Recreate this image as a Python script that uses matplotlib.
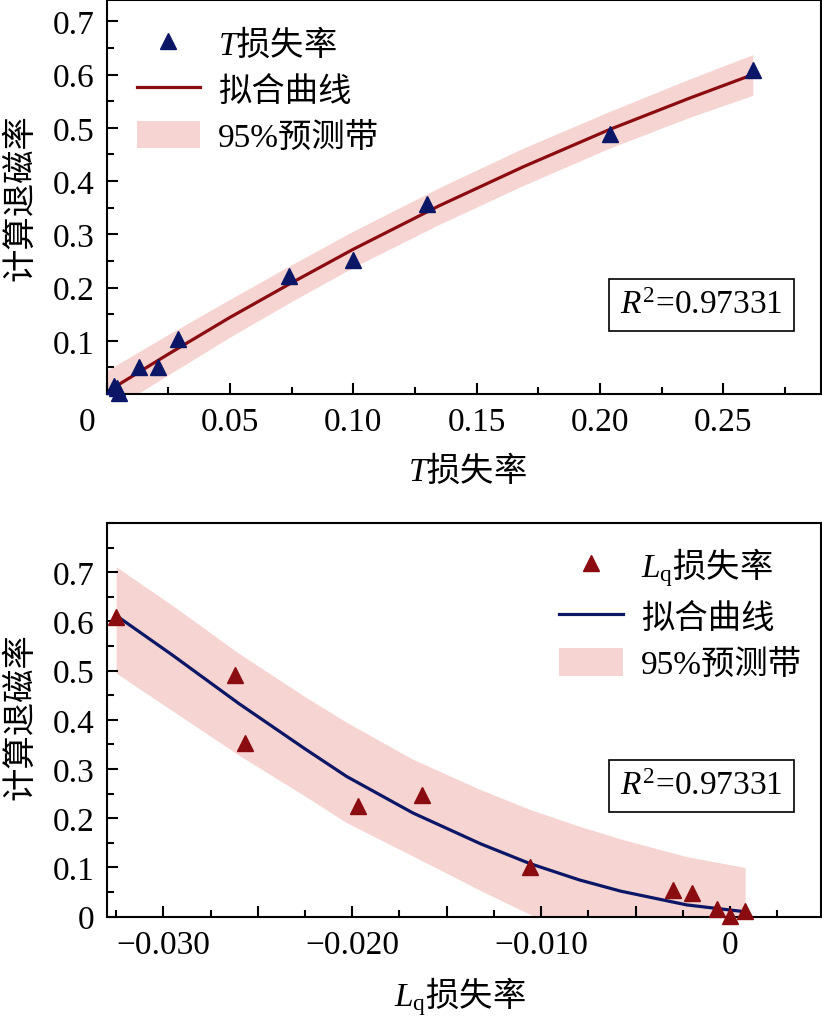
import matplotlib
matplotlib.use('Agg')
import matplotlib.pyplot as plt
from matplotlib.ticker import MultipleLocator

plt.rcParams['font.family'] = ['Liberation Serif', 'Noto Sans CJK SC']
plt.rcParams['mathtext.fontset'] = 'custom'
plt.rcParams['mathtext.rm'] = 'Liberation Serif'
plt.rcParams['mathtext.it'] = 'Liberation Serif:italic'
plt.rcParams['mathtext.sf'] = 'Noto Sans CJK SC'   # used for the CJK part of mixed labels
plt.rcParams['font.size'] = 24

# top panel: T loss rate vs computed demagnetization rate
t_x = [0.003, 0.005, 0.004, 0.013, 0.021, 0.029, 0.074, 0.100, 0.130, 0.204, 0.262]
t_y = [0.016, 0.002, 0.012, 0.050, 0.050, 0.103, 0.222, 0.251, 0.356, 0.488, 0.609]
tc_x = [0, 0.025, 0.05, 0.075, 0.1, 0.135, 0.169, 0.204, 0.2365, 0.262]
tc_y = [0.004, 0.075, 0.144, 0.209, 0.272, 0.354, 0.427, 0.497, 0.556, 0.600]
tb_hi = [0.044, 0.112, 0.178, 0.243, 0.306, 0.388, 0.462, 0.531, 0.592, 0.6375]
tb_lo = [-0.035, 0.036, 0.107, 0.174, 0.238, 0.319, 0.392, 0.462, 0.520, 0.561]

# bottom panel: Lq loss rate
l_x = [-0.0325, -0.0262, -0.0257, -0.0197, -0.0163, -0.0106, -0.0030, -0.0020, -0.0007, 0.0, 0.0008]
l_y = [0.609, 0.491, 0.353, 0.224, 0.248, 0.100, 0.054, 0.049, 0.016, 0.002, 0.012]
lc_x = [-0.0325, -0.0295, -0.026, -0.0225, -0.0203, -0.0168, -0.0132, -0.0106, -0.008, -0.0058, -0.0023, 0.0008]
lc_y = [0.612, 0.531, 0.433, 0.341, 0.285, 0.211, 0.148, 0.108, 0.075, 0.052, 0.024, 0.010]
lb_hi = [0.711, 0.632, 0.535, 0.447, 0.395, 0.320, 0.258, 0.218, 0.184, 0.158, 0.122, 0.100]
lb_lo = [0.495, 0.418, 0.328, 0.245, 0.191, 0.1235, 0.053, 0.005, -0.04, -0.07, -0.11, -0.13]

r2_text = r'$R^2$=0.97331'
t_label = r'$T\mathsf{损失率}$'
lq_label = r'$L_\mathrm{q}\mathsf{损失率}$'

navy = '#0b1766'
darkred = '#8b0c10'
band = '#f6d4d1'

fig = plt.figure(figsize=(8.22, 10.2), dpi=100)
ax1 = fig.add_axes([0.1298, 0.6127, 0.8686, 0.3863])
ax2 = fig.add_axes([0.1298, 0.1003, 0.8686, 0.3860])


def style(ax):
    for s in ax.spines.values():
        s.set_linewidth(1.5)
    ax.tick_params(which='both', direction='in', width=1.5, pad=9,
                   top=False, right=False, labelsize=24)
    ax.tick_params(which='major', length=8)
    ax.tick_params(which='minor', length=5)


def legend(ax, **kw):
    h, l = ax.get_legend_handles_labels()
    ax.legend(h[::-1], l[::-1], frameon=False, borderpad=0, borderaxespad=0,
              labelspacing=0.42, handlelength=1.9, handleheight=0.9,
              handletextpad=0.55, fontsize=24, **kw)


# ---- top
ax1.fill_between(tc_x, tb_lo, tb_hi, color=band, lw=0, label='95%预测带')
ax1.plot(tc_x, tc_y, color=darkred, lw=2.3, label='拟合曲线')
ax1.plot(t_x, t_y, '^', ls='none', color=navy, ms=11, clip_on=False,
         zorder=5, label=t_label)
ax1.set_xlim(0, 0.2895)
ax1.set_ylim(0, 0.74)
ax1.set_xticks([0, 0.05, 0.10, 0.15, 0.20, 0.25])
ax1.set_xticklabels(['', '0.05', '0.10', '0.15', '0.20', '0.25'])
ax1.xaxis.set_minor_locator(MultipleLocator(0.025))
ax1.set_yticks([0.1, 0.2, 0.3, 0.4, 0.5, 0.6, 0.7])
ax1.set_yticklabels(['0.1', '0.2', '0.3', '0.4', '0.5', '0.6', '0.7'])
ax1.yaxis.set_minor_locator(MultipleLocator(0.05))
style(ax1)
ax1.annotate('0', xy=(0, 0), xycoords='axes fraction', xytext=(-14, -9),
             textcoords='offset points', ha='center', va='top', fontsize=24)
ax1.set_xlabel(t_label, fontsize=24)
ax1.xaxis.set_label_coords(0.505, -0.145)
ax1.set_ylabel('计算退磁率', fontsize=24)
ax1.yaxis.set_label_coords(-0.098, 0.5)
legend(ax1, loc='upper left', bbox_to_anchor=(0.042, 0.937))
ax1.text(0.833, 0.226, r2_text, transform=ax1.transAxes, ha='center', va='center',
         fontsize=24, bbox=dict(boxstyle='square,pad=0.33', fc='white', ec='black', lw=1.2))

# ---- bottom
ax2.fill_between(lc_x, lb_lo, lb_hi, color=band, lw=0, label='95%预测带')
ax2.plot(lc_x, lc_y, color=navy, lw=2.3, label='拟合曲线')
ax2.plot(l_x, l_y, '^', ls='none', color=darkred, ms=11, clip_on=False,
         zorder=5, label=lq_label)
ax2.set_xlim(-0.0330, 0.0048)
ax2.set_ylim(0, 0.8)
ax2.set_xticks([-0.030, -0.025, -0.020, -0.015, -0.010, -0.005, 0.0])
ax2.set_xticklabels(['\u22120.030', '', '\u22120.020', '', '\u22120.010', '', '0'])
ax2.xaxis.set_minor_locator(MultipleLocator(0.0025))
ax2.set_yticks([0, 0.1, 0.2, 0.3, 0.4, 0.5, 0.6, 0.7])
ax2.set_yticklabels(['0', '0.1', '0.2', '0.3', '0.4', '0.5', '0.6', '0.7'])
ax2.yaxis.set_minor_locator(MultipleLocator(0.05))
style(ax2)
ax2.set_xlabel(lq_label, fontsize=24)
ax2.xaxis.set_label_coords(0.495, -0.145)
ax2.set_ylabel('计算退磁率', fontsize=24)
ax2.yaxis.set_label_coords(-0.098, 0.51)
legend(ax2, loc='upper right', bbox_to_anchor=(0.974, 0.945))
ax2.text(0.833, 0.332, r2_text, transform=ax2.transAxes, ha='center', va='center',
         fontsize=24, bbox=dict(boxstyle='square,pad=0.33', fc='white', ec='black', lw=1.2))

fig.savefig('out.png', dpi=100)
